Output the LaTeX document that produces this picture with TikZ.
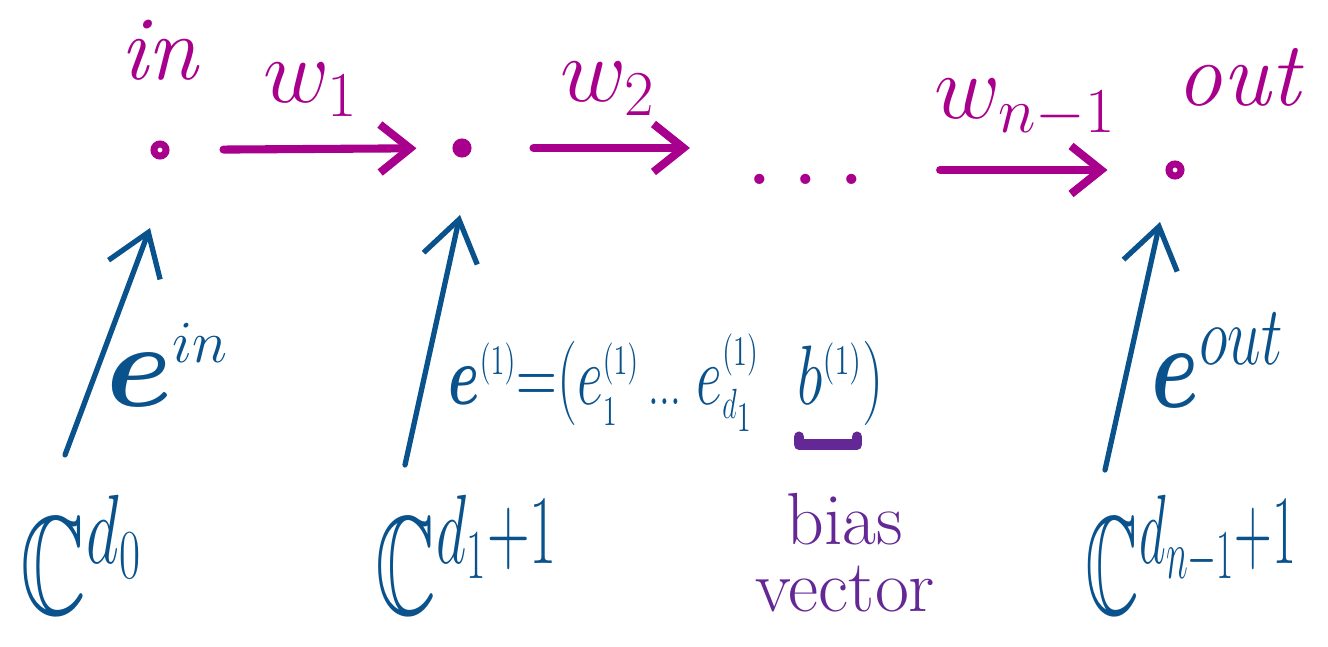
\documentclass[tikz,border=0pt]{standalone}
\usepackage{fix-cm}
\usepackage{amsmath,amssymb,bm}
\usepackage{graphicx}
\usepackage{xcolor}
\usepackage{tikz}
\usetikzlibrary{arrows.meta, positioning, calc}
\definecolor{inkmag}{RGB}{168,0,140}
\definecolor{inkblue}{RGB}{10,82,140}
\definecolor{inkpurple}{RGB}{100,40,150}
\newcommand{\narrow}[2][0.65]{\scalebox{#1}[1]{#2}}

\begin{document}
\begin{tikzpicture}[
    vtx/.style={circle, draw=inkmag, line width=2pt, inner sep=0pt, minimum size=0.12cm},
    vtxfull/.style={vtx, fill=inkmag},
    wlab/.style={text=inkmag, inner sep=1pt, font=\fontsize{26}{26}\selectfont},
    warr/.style={-{Straight Barb[length=3mm, width=4.8mm]}, line width=2.3pt, inkmag, line cap=round, line join=round},
    earr/.style={-{Straight Barb[length=4mm, width=5.5mm]}, line width=1.5pt, inkblue, line cap=round, line join=round},
    elab/.style={text=inkblue, inner sep=0pt, font=\fontsize{34}{34}\selectfont},
    eqlab/.style={text=inkblue, inner sep=0pt, anchor=base west, font=\fontsize{24}{24}\selectfont},
    space/.style={text=inkblue, inner sep=0pt, anchor=base west, font=\fontsize{40}{40}\selectfont},
]
    \useasboundingbox (0,0) rectangle (13.28,6.47);

    % layer vertices
    \node[vtx]     (vin)   at (1.60,4.97) {};
    \node[vtxfull] (v1)    at (4.62,4.99) {};
    \node[text=inkmag, inner sep=0pt, font=\fontsize{30}{30}\selectfont] (vdots) at (8.15,4.68) {$\dots$};
    \node[vtx]     (vout)  at (11.75,4.77) {};

    \node[wlab] (inlab)  at (1.60,5.97) {\textit{in}};
    \node[wlab] (outlab) at (12.40,5.70) {\textit{out}};

    % weights
    \draw[warr, shorten <=0.54cm, shorten >=0.36cm] (vin) -- (v1)
        node[wlab, midway, above=0.25cm] (w1) {$w_1$};
    \draw[warr, shorten <=0.62cm, shorten >=0.55cm] (v1) -- (v1 -| vdots.west)
        node[wlab, midway, above=0.25cm] (w2) {$w_2$};
    \draw[warr, shorten <=0.55cm, shorten >=0.58cm] (vdots.east |- vout) -- (vout)
        node[wlab, midway, above=0.25cm] (wn) {$w_{n-1}$};

    % embeddings
    \coordinate (t0) at (0.65,1.92);  \coordinate (h0) at (1.50,4.19);
    \coordinate (t1) at (4.05,1.82);  \coordinate (h1) at (4.60,4.32);
    \coordinate (t2) at (11.05,1.77); \coordinate (h2) at (11.60,4.25);
    \draw[earr] (t0) -- (h0);
    \draw[earr] (t1) -- (h1);
    \draw[earr] (t2) -- (h2);

    \node[elab] (ein)  at (1.68,2.82) {$\bm{e}^{\scriptscriptstyle in}$};
    \node[elab] (eout) at (12.18,2.87) {\narrow[0.72]{$\bm{e}^{\scriptstyle out}$}};
    \node[eqlab] (eqn) at (4.48,2.42)
        {\narrow[0.67]{$\bm{e}^{\scriptscriptstyle(1)}{=}(e^{\scriptscriptstyle(1)}_{\scriptscriptstyle 1}\,{\scriptstyle\dots}\;e^{\scriptscriptstyle(1)}_{\scriptscriptstyle d_1}$}};
    \node[eqlab] (bvec) at (7.97,2.42)
        {\narrow[0.72]{$b^{\scriptscriptstyle(1)})$}};

    % bias bracket
    \draw[inkpurple, line width=3pt, line cap=round, line join=round]
        ($(bvec.south west)+(0.02,-0.10)$) -- ++(0,-0.08) -- ++(0.58,0) -- ++(0,0.08);
    \node[text=inkpurple, align=center, font=\fontsize{21}{19}\selectfont] (bias) at (8.45,0.94) {bias\\vector};

    % spaces
    \node[space] (c0) at (0.20,0.32)  {\narrow{$\mathbb{C}^{d_0}$}};
    \node[space] (c1) at (3.75,0.32)  {\narrow[0.6]{$\mathbb{C}^{d_1{+}1}$}};
    \node[space] (c2) at (10.85,0.32) {\narrow[0.53]{$\mathbb{C}^{d_{n{-}1}{+}1}$}};
\end{tikzpicture}
\end{document}
